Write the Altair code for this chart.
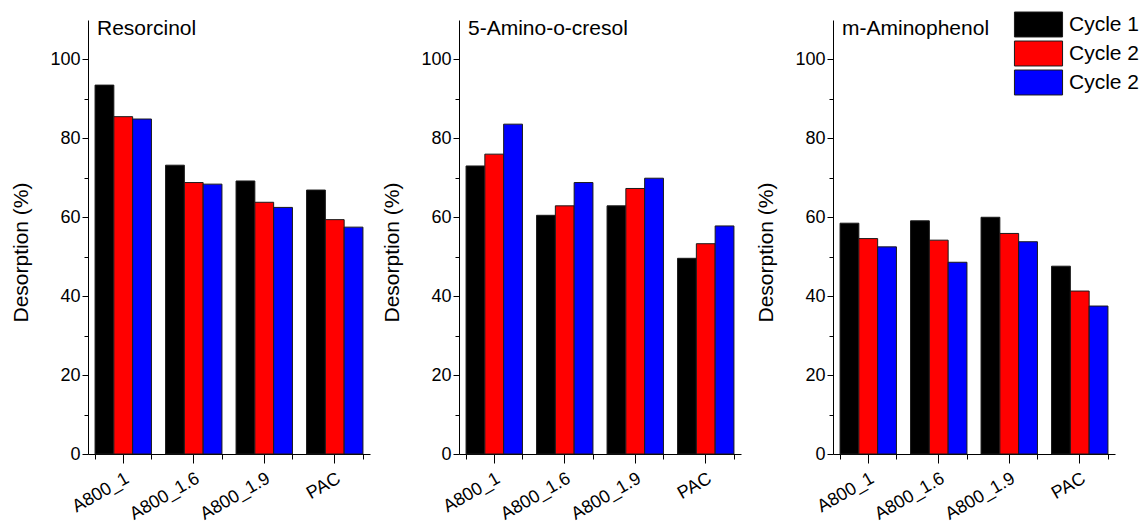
import altair as alt
import pandas as pd

# sample materials on the x axis
samples = ["A800_1", "A800_1.6", "A800_1.9", "PAC"]
# series keys, their legend texts and fill colours
cycles = ["Cycle 1", "Cycle 2", "Cycle 3"]
cycle_labels = ["Cycle 1", "Cycle 2", "Cycle 2"]
colors = ["#000000", "#ff0000", "#0000ff"]

compounds = ["Resorcinol", "5-Amino-o-cresol", "m-Aminophenol"]

# desorption (%) per cycle, in the order of `samples`
resorcinol_c1 = [93.5, 73.2, 69.2, 66.9]
resorcinol_c2 = [85.5, 68.8, 63.8, 59.4]
resorcinol_c3 = [84.9, 68.4, 62.5, 57.5]

cresol_c1 = [73.0, 60.5, 62.9, 49.6]
cresol_c2 = [76.0, 62.9, 67.3, 53.3]
cresol_c3 = [83.6, 68.8, 69.9, 57.8]

aminophenol_c1 = [58.5, 59.1, 60.0, 47.6]
aminophenol_c2 = [54.6, 54.2, 55.9, 41.3]
aminophenol_c3 = [52.5, 48.6, 53.8, 37.5]

series = {
    "Resorcinol": [resorcinol_c1, resorcinol_c2, resorcinol_c3],
    "5-Amino-o-cresol": [cresol_c1, cresol_c2, cresol_c3],
    "m-Aminophenol": [aminophenol_c1, aminophenol_c2, aminophenol_c3],
}

major_y = [0, 20, 40, 60, 80, 100]
minor_y = [10, 30, 50, 70, 90]

FONT = "Liberation Sans"

# horizontal start of each panel inside the shared view, and panel width
PANEL_X = [0, 371, 745]
PANEL_W = 282

# legend text lookup (two series share the same label)
label_expr = "datum.label"
for key, text in zip(cycles, cycle_labels):
    label_expr = f"datum.label === '{key}' ? '{text}' : ({label_expr})"

# wide rectangular swatch; path units are scaled by sqrt(symbolSize)/2
legend = alt.Legend(
    title=None,
    orient="none",
    legendX=937,
    legendY=-9,
    symbolType="M-1.85,-0.96H1.85V0.96H-1.85Z",
    symbolSize=676,
    symbolStrokeColor="#1a1a1a",
    symbolStrokeWidth=1,
    symbolOpacity=1,
    labelFont=FONT,
    labelFontSize=21,
    labelColor="black",
    labelOffset=17,
    rowPadding=0,
    padding=0,
    labelExpr=label_expr,
)


def panel(name, x0):
    rows = []
    for cycle, vals in zip(cycles, series[name]):
        for s, v in zip(samples, vals):
            rows.append({"Sample": s, "Cycle": cycle, "Desorption": v})
    df = pd.DataFrame(rows)

    x_scale = alt.Scale(
        domain=samples, range=[x0, x0 + PANEL_W], paddingInner=0.2, paddingOuter=0.1
    )
    y_scale = alt.Scale(domain=[0, 110], nice=False, zero=True)
    base = alt.Chart(df)

    bars = base.mark_bar(stroke="#1a1a1a", strokeWidth=1).encode(
        x=alt.X(
            "Sample:N",
            sort=samples,
            scale=x_scale,
            axis=alt.Axis(
                orient="bottom",
                title=None,
                labelAngle=330,
                labelAlign="right",
                labelBaseline="top",
                labelFont=FONT,
                labelFontSize=18,
                labelColor="black",
                labelPadding=6,
                tickSize=9,
                tickColor="black",
                domainColor="black",
                grid=False,
            ),
        ),
        xOffset=alt.XOffset(
            "Cycle:N", sort=cycles, scale=alt.Scale(paddingInner=0, paddingOuter=0)
        ),
        y=alt.Y(
            "Desorption:Q",
            scale=y_scale,
            axis=alt.Axis(
                orient="left",
                offset=-x0,
                values=major_y,
                title="Desorption (%)",
                titleFont=FONT,
                titleFontSize=21,
                titleFontWeight="normal",
                titleColor="black",
                titlePadding=18,
                titleY=232,
                labelFont=FONT,
                labelFontSize=18,
                labelColor="black",
                labelPadding=2,
                tickSize=6,
                tickColor="black",
                domainColor="black",
                grid=False,
            ),
        ),
        color=alt.Color(
            "Cycle:N", scale=alt.Scale(domain=cycles, range=colors), legend=legend
        ),
    )

    # invisible layer carrying the minor tick axes
    minor = base.mark_bar(opacity=0).encode(
        x=alt.X(
            "Sample:N",
            sort=samples,
            scale=x_scale,
            axis=alt.Axis(
                orient="bottom",
                tickBand="extent",
                labels=False,
                domain=False,
                title=None,
                tickSize=5,
                tickColor="black",
                grid=False,
            ),
        ),
        y=alt.Y(
            "Desorption:Q",
            scale=y_scale,
            axis=alt.Axis(
                orient="left",
                offset=-x0,
                values=minor_y,
                labels=False,
                domain=False,
                title=None,
                tickSize=4,
                tickColor="black",
                grid=False,
            ),
        ),
    )

    heading = (
        alt.Chart(pd.DataFrame({"compound": [name]}))
        .mark_text(
            align="left",
            baseline="alphabetic",
            font=FONT,
            fontSize=21,
            color="black",
        )
        .encode(x=alt.value(x0 + 9), y=alt.value(15), text="compound:N")
    )

    return alt.layer(bars, minor, heading).resolve_axis(
        x="independent", y="independent"
    )


chart = (
    alt.layer(*[panel(c, x0) for c, x0 in zip(compounds, PANEL_X)])
    .resolve_scale(x="independent", xOffset="independent", y="shared", color="shared")
    .resolve_axis(x="independent", y="independent")
    .properties(
        width=1056,
        height=434,
        autosize=alt.AutoSizeParams(type="none"),
        padding={"left": 88, "top": 20, "right": 0, "bottom": 70},
        background="white",
    )
    .configure_view(stroke=None)
)

chart.save("out.html", embed_options={"renderer": "svg", "actions": False})
